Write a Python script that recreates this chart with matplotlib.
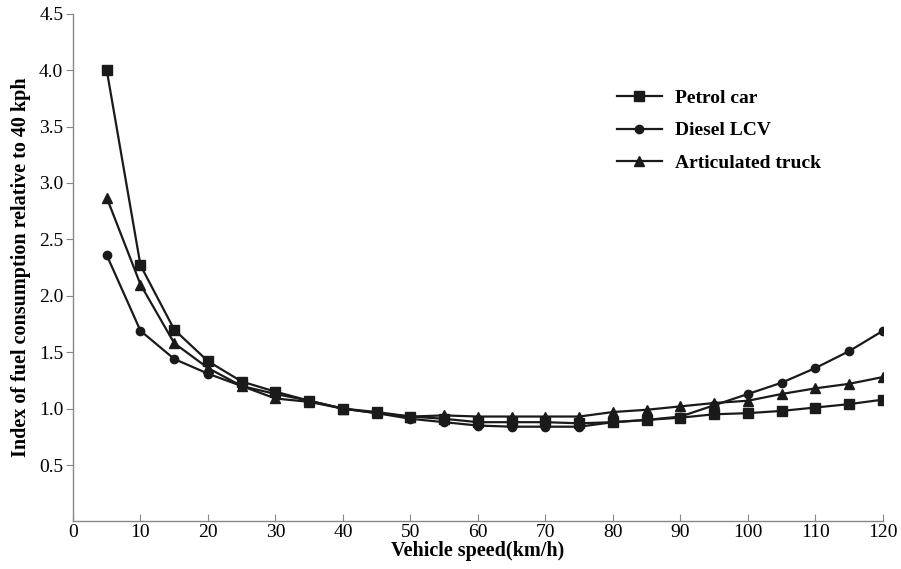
import numpy as np
import matplotlib.pyplot as plt

# -------------------------------------------------------------------------
# data
# -------------------------------------------------------------------------
speed = [5, 10, 15, 20, 25, 30, 35, 40, 45, 50, 55, 60, 65, 70, 75, 80,
         85, 90, 95, 100, 105, 110, 115, 120]

petrol = [4.00, 2.27, 1.70, 1.42, 1.24, 1.15, 1.07, 1.00, 0.97, 0.93, 0.91,
          0.88, 0.88, 0.88, 0.87, 0.88, 0.90, 0.92, 0.95, 0.96, 0.98, 1.01,
          1.04, 1.08]
diesel = [2.36, 1.69, 1.44, 1.31, 1.20, 1.13, 1.07, 1.00, 0.96, 0.91, 0.88,
          0.85, 0.84, 0.84, 0.84, 0.88, 0.90, 0.93, 1.03, 1.13, 1.23, 1.36,
          1.51, 1.69]
truck = [2.87, 2.10, 1.58, 1.36, 1.20, 1.09, 1.06, 1.00, 0.96, 0.93, 0.94,
         0.93, 0.93, 0.93, 0.93, 0.97, 0.99, 1.02, 1.05, 1.07, 1.13, 1.18,
         1.22, 1.28]

labels = ['Petrol car', 'Diesel LCV', 'Articulated truck']

xticks = np.arange(0, 121, 10)
yticks = [0.5, 1.0, 1.5, 2.0, 2.5, 3.0, 3.5, 4.0, 4.5]

# -------------------------------------------------------------------------
# plot
# -------------------------------------------------------------------------
plt.rcParams['font.family'] = ['Liberation Serif', 'DejaVu Serif']

fig = plt.figure(figsize=(9.01, 5.69), dpi=100)
ax = fig.add_axes([0.081, 0.0835, 0.899, 0.8925])

lc = '#1a1a1a'
ax.plot(speed, petrol, '-s', color=lc, lw=1.6, ms=7.5, label=labels[0])
ax.plot(speed, diesel, '-o', color=lc, lw=1.6, ms=6, label=labels[1])
ax.plot(speed, truck, '-^', color=lc, lw=1.6, ms=6.5, label=labels[2])

ax.set_xlim(0, 120)
ax.set_ylim(0, 4.5)
ax.set_xticks(xticks)
ax.set_yticks(yticks)
ax.set_yticklabels(['%.1f' % v for v in yticks])

for s in ['top', 'right']:
    ax.spines[s].set_visible(False)
for s in ['left', 'bottom']:
    ax.spines[s].set_color('#888888')
    ax.spines[s].set_linewidth(1.0)

ax.tick_params(axis='x', direction='in', length=5, color='#888888',
               labelsize=14, pad=2)
ax.tick_params(axis='y', direction='out', length=5, color='#888888',
               labelsize=14, pad=2)

ax.set_xlabel('Vehicle speed(km/h)', fontsize=14.5, fontweight='bold', labelpad=0)
ax.set_ylabel('Index of fuel consumption relative to 40 kph', fontsize=14.5,
              fontweight='bold', labelpad=6)

ax.legend(loc='upper left', bbox_to_anchor=(0.65, 0.885), frameon=False,
          prop={'size': 14, 'weight': 'bold'}, handlelength=2.3,
          labelspacing=0.75, handletextpad=0.7)

plt.savefig('out.png', dpi=100)
